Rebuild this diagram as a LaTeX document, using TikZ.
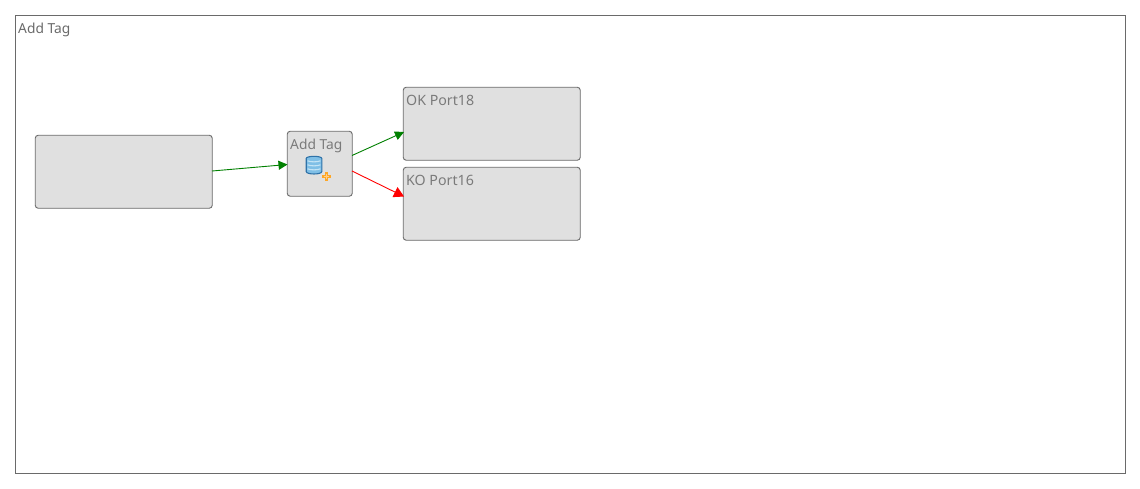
\documentclass[tikz,border=0pt]{standalone}
\usepackage{fontspec}
\setmainfont{Noto Sans}
\usetikzlibrary{arrows.meta}
\definecolor{boxfill}{HTML}{E0E0E0}
\definecolor{boxline}{HTML}{6A6A6A}
\definecolor{labelgray}{HTML}{7A7A7A}
\definecolor{okgreen}{HTML}{008000}
\definecolor{kored}{HTML}{FF0000}
\definecolor{dbblue}{HTML}{2F72A8}
\definecolor{dbfill}{HTML}{7FBFE6}
\definecolor{dbband}{HTML}{C4E4F5}
\definecolor{plusorange}{HTML}{FFA726}
\definecolor{pluslight}{HTML}{FFD08A}
\tikzset{
  x=1pt,y=-1pt,
  compbox/.style={draw=boxline,fill=boxfill,rounded corners=3pt,line width=0.9pt,anchor=north west,inner sep=0pt},
  boxlabel/.style={anchor=base west,inner sep=0pt,text=labelgray,font=\fontsize{13.8}{16}\selectfont},
  portlabel/.style={boxlabel,font=\fontsize{14.2}{16}\selectfont},
  oklink/.style={draw=okgreen,line width=0.9pt,-{Triangle[length=9pt,width=9pt,fill=okgreen]}},
  kolink/.style={draw=kored,line width=0.9pt,-{Triangle[length=10pt,width=11pt,fill=kored]}},
}
\begin{document}
\begin{tikzpicture}
\useasboundingbox (0,0) rectangle (1140,488);
\fill[white] (0,0) rectangle (1140,488);
\node[draw=boxline,line width=0.9pt,anchor=north west,minimum width=1110pt,minimum height=458pt,inner sep=0pt] (frame) at (14.8,14.8) {};
\node[boxlabel,text=boxline] (framelabel) at (18,33) {Add Tag};
\node[compbox,minimum width=177pt,minimum height=73pt] (src) at (34.8,134.8) {};
\node[compbox,minimum width=65pt,minimum height=65pt] (tag) at (286.8,130.8) {};
\node[compbox,minimum width=177pt,minimum height=73pt] (ok) at (402.8,86.8) {};
\node[compbox,minimum width=177pt,minimum height=73pt] (ko) at (402.8,166.8) {};
\node[boxlabel] (taglabel) at (290,149) {Add Tag};
\node[portlabel] (oklabel) at (406,105) {OK Port18};
\node[portlabel] (kolabel) at (406,185) {KO Port16};
% connector ends on the box borders
\coordinate (srcout) at (212,171);
\coordinate (tagin) at (287.5,164.5);
\coordinate (tagok) at (352,155.5);
\coordinate (tagko) at (352,171);
\coordinate (okin) at (404,132);
\coordinate (koin) at (404,196.5);
\draw[oklink] (srcout) -- (tagin);
\draw[oklink] (tagok) -- (okin);
\draw[kolink] (tagko) -- (koin);
% database icon
\path[draw=dbblue,fill=dbfill,line width=1.1pt] (306.2,158.5) .. controls (306.2,155.6) and (321.8,155.6) .. (321.8,158.5) -- (321.8,171.5) .. controls (321.8,174.8) and (306.2,174.8) .. (306.2,171.5) -- cycle;
\draw[dbband,line width=1.1pt] (307.5,160.8) .. controls (311,162.2) and (317,162.2) .. (320.5,160.8)
  (307.5,164.8) .. controls (311,166.2) and (317,166.2) .. (320.5,164.8)
  (307.5,168.8) .. controls (311,170.2) and (317,170.2) .. (320.5,168.8);
% plus icon
\draw[plusorange,line width=3pt] (326.5,172) -- (326.5,181) (322,176.5) -- (331,176.5);
\draw[pluslight,line width=0.8pt] (326.5,174) -- (326.5,179) (324,176.5) -- (329,176.5);
\end{tikzpicture}
\end{document}
